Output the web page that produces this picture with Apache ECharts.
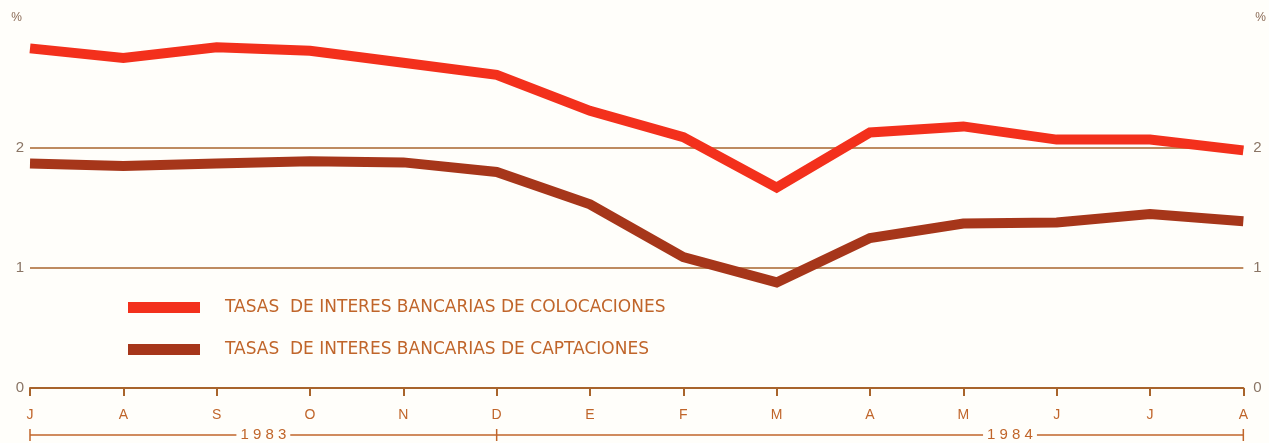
<!DOCTYPE html>
<html>
<head>
<meta charset="utf-8">
<script src="https://cdn.jsdelivr.net/npm/echarts@6/dist/echarts.min.js"></script>
<style>
  html, body { margin: 0; padding: 0; background: #fffefa; }
  #chart { width: 1269px; height: 443px; }
</style>
</head>
<body>
<div id="chart"></div>
<script>
// meses jul 1983 - ago 1984
const months = ['J', 'A', 'S', 'O', 'N', 'D', 'E', 'F', 'M', 'A', 'M', 'J', 'J', 'A'];
const colocaciones = [2.83, 2.75, 2.84, 2.81, 2.71, 2.61, 2.31, 2.09, 1.67, 2.13, 2.18, 2.07, 2.07, 1.98];
const captaciones = [1.87, 1.85, 1.87, 1.89, 1.88, 1.80, 1.53, 1.09, 0.88, 1.25, 1.37, 1.38, 1.45, 1.39];
const yearLabels = ['1 9 8 3', '1 9 8 4'];
const yearBreaks = [0, 5, 13]; // indices where the year bracket has ticks

const RED = '#f3301c';
const BROWN = '#a6361a';
const TEXT = '#c0652a';
const GRID = '#a8642c';

const chart = echarts.init(document.getElementById('chart'));

chart.setOption({
  backgroundColor: '#fffefa',
  animation: false,
  grid: { left: 30, right: 23, top: 28, bottom: 55 },
  legend: {
    orient: 'vertical',
    left: 123,
    top: 294,
    itemWidth: 72,
    itemHeight: 11,
    itemGap: 25,
    icon: 'rect',
    data: ['TASAS  DE INTERES BANCARIAS DE COLOCACIONES', 'TASAS  DE INTERES BANCARIAS DE CAPTACIONES'],
    textStyle: { color: TEXT, fontSize: 17, fontFamily: 'DejaVu Sans', padding: [0, 0, 0, 20] },
  },
  xAxis: {
    type: 'category',
    boundaryGap: false,
    data: months,
    axisLine: { lineStyle: { color: GRID, width: 2 } },
    axisTick: { show: true, inside: false, length: 8, lineStyle: { color: GRID, width: 2 } },
    axisLabel: { color: TEXT, fontSize: 14, fontFamily: 'Liberation Sans', margin: 20 },
  },
  yAxis: [
    {
      type: 'value',
      min: 0,
      max: 3,
      interval: 1,
      name: '%',
      nameLocation: 'end',
      nameGap: 4,
      nameTextStyle: { color: '#8a6a55', fontSize: 12, align: 'right', padding: [0, 8, 0, 0] },
      axisLine: { show: false },
      axisTick: { show: false },
      axisLabel: {
        color: '#8a7565',
        fontSize: 15,
        fontFamily: 'Liberation Sans',
        margin: 6,
        formatter: v => (v === 3 ? '' : String(v)),
      },
      splitLine: {
        show: true,
        lineStyle: { color: ['rgba(0,0,0,0)', GRID, GRID, 'rgba(0,0,0,0)'], width: 1.5 },
      },
    },
    {
      type: 'value',
      min: 0,
      max: 3,
      interval: 1,
      position: 'right',
      name: '%',
      nameLocation: 'end',
      nameGap: 4,
      nameTextStyle: { color: '#8a6a55', fontSize: 12, align: 'left', padding: [0, 0, 0, 12] },
      axisLine: { show: false },
      axisTick: { show: false },
      axisLabel: {
        color: '#8a7565',
        fontSize: 15,
        fontFamily: 'Liberation Sans',
        margin: 10,
        formatter: v => (v === 3 ? '' : String(v)),
      },
      splitLine: { show: false },
    },
  ],
  series: [
    {
      name: 'TASAS  DE INTERES BANCARIAS DE COLOCACIONES',
      type: 'line',
      data: colocaciones,
      symbol: 'none',
      itemStyle: { color: RED },
      lineStyle: { color: RED, width: 10, join: 'miter' },
      z: 3,
    },
    {
      name: 'TASAS  DE INTERES BANCARIAS DE CAPTACIONES',
      type: 'line',
      data: captaciones,
      symbol: 'none',
      itemStyle: { color: BROWN },
      lineStyle: { color: BROWN, width: 10, join: 'miter' },
      z: 3,
    },
  ],
});

// year bracket under the month labels
const px = i => chart.convertToPixel({ xAxisIndex: 0 }, i);
const x0 = px(0);
const x13 = px(months.length - 1);
const step = (x13 - x0) / (months.length - 1);
const yb = 435;
const bracket = [
  { type: 'line', shape: { x1: x0, y1: yb, x2: x13, y2: yb }, style: { stroke: TEXT, lineWidth: 1.5 } },
];
yearBreaks.forEach(i => {
  const x = px(i);
  bracket.push({ type: 'line', shape: { x1: x, y1: yb - 6, x2: x, y2: yb + 6 }, style: { stroke: TEXT, lineWidth: 1.5 } });
});
[2.5, 10.5].forEach((pos, k) => {
  bracket.push({
    type: 'text',
    x: x0 + pos * step,
    y: yb,
    style: {
      text: yearLabels[k],
      fill: TEXT,
      font: '15px "Liberation Sans"',
      align: 'center',
      verticalAlign: 'middle',
      backgroundColor: '#fffefa',
      padding: [0, 4],
    },
  });
});
chart.setOption({ graphic: bracket });
</script>
</body>
</html>
